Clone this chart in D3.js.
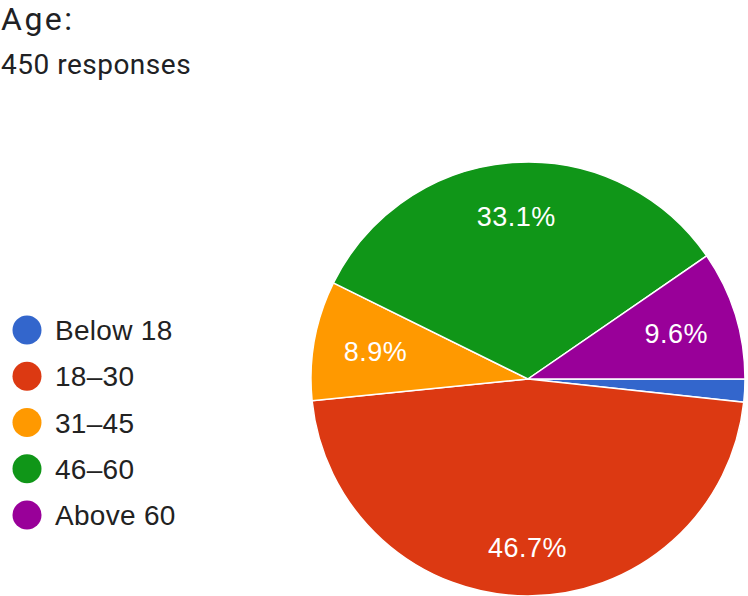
<!DOCTYPE html>
<html>
<head>
<meta charset="utf-8">
<script src="https://cdn.jsdelivr.net/npm/d3@7"></script>
<style>
  html, body { margin: 0; padding: 0; background: #fff; }
  svg { display: block; }
</style>
</head>
<body>
<svg id="chart"></svg>
<script>
const categories = ["Below 18", "18–30", "31–45", "46–60", "Above 60"];
const percents = [1.7, 46.7, 8.9, 33.1, 9.6];
const colors = ["#3366cc", "#dc3912", "#ff9900", "#109618", "#990099"];
const shownLabels = ["", "46.7%", "8.9%", "33.1%", "9.6%"];

const width = 748;
const height = 596;
const cx = 528;
const cy = 379;
const radius = 217;

const svg = d3.select("#chart").attr("width", width).attr("height", height);

svg.append("text")
  .attr("x", 1)
  .attr("y", 30)
  .attr("font-family", "Roboto, sans-serif")
  .attr("font-size", 32)
  .attr("letter-spacing", 2.5)
  .attr("fill", "#202124")
  .text("Age:");

svg.append("text")
  .attr("x", 1)
  .attr("y", 74)
  .attr("font-family", "Roboto, sans-serif")
  .attr("font-size", 28)
  .attr("letter-spacing", 0.5)
  .attr("fill", "#202124")
  .text("450 responses");

const pie = d3.pie()
  .sort(null)
  .value((d) => d)
  .startAngle(Math.PI / 2)
  .endAngle(Math.PI / 2 + 2 * Math.PI);

const arcs = pie(percents);
const arc = d3.arc().innerRadius(0).outerRadius(radius);

// wider slices get their label pushed a bit further out
function labelPos(d) {
  const span = d.endAngle - d.startAngle;
  const r = radius * (0.70 + 0.08 * Math.min(1, span / Math.PI));
  return d3.arc().innerRadius(r).outerRadius(r).centroid(d);
}

const g = svg.append("g").attr("transform", `translate(${cx},${cy})`);

g.selectAll("path")
  .data(arcs)
  .join("path")
  .attr("d", arc)
  .attr("fill", (d, i) => colors[i])
  .attr("stroke", "#fff")
  .attr("stroke-width", 1.5);

g.selectAll("text")
  .data(arcs)
  .join("text")
  .attr("transform", (d) => `translate(${labelPos(d)})`)
  .attr("text-anchor", "middle")
  .attr("dy", "0.36em")
  .attr("font-family", "'Liberation Sans', Arial, sans-serif")
  .attr("font-size", 27)
  .attr("letter-spacing", 0.5)
  .attr("fill", "#fff")
  .text((d, i) => shownLabels[i]);

const legend = svg.append("g");
const rowY = d3.scalePoint().domain(categories).range([330, 515]);

legend.selectAll("circle")
  .data(categories)
  .join("circle")
  .attr("cx", 27)
  .attr("cy", (d) => rowY(d))
  .attr("r", 14.5)
  .attr("fill", (d, i) => colors[i]);

legend.selectAll("text")
  .data(categories)
  .join("text")
  .attr("x", 55)
  .attr("y", (d) => rowY(d) + 10)
  .attr("font-family", "'Liberation Sans', Arial, sans-serif")
  .attr("font-size", 28)
  .attr("letter-spacing", 0.3)
  .attr("fill", "#222")
  .text((d) => d);
</script>
</body>
</html>
